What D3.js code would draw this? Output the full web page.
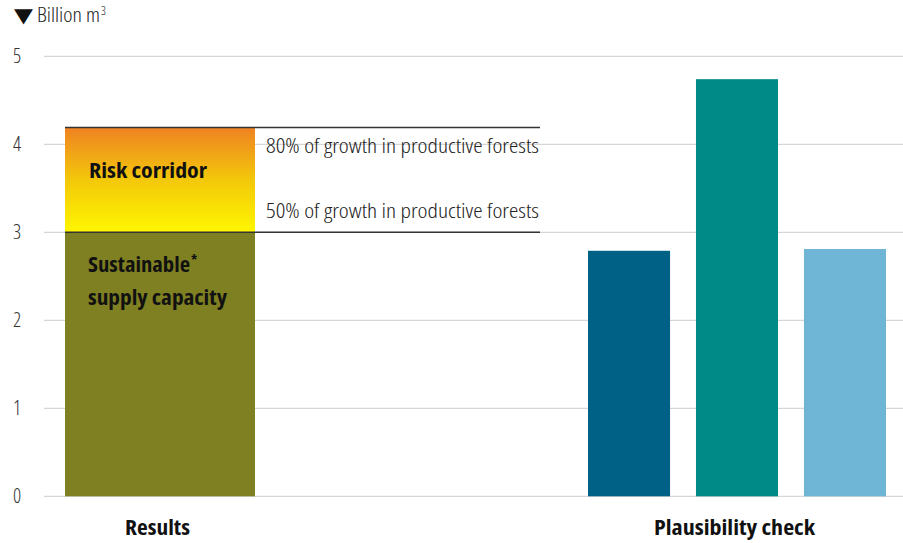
<!DOCTYPE html>
<html><head><meta charset="utf-8">
<script src="https://cdn.jsdelivr.net/npm/d3@7"></script>
<style>
body{margin:0;background:#fff;}
text{font-family:"Open Sans",sans-serif;font-stretch:75%;}
</style></head>
<body><svg id="c" width="903" height="543"></svg>
<script>
const groups = ["Results", "Plausibility check"];
const yTicks = [0, 1, 2, 3, 4, 5];
const sustainable = 3.0;      // 50% of growth
const riskTop = 4.19;         // 80% of growth
const checkNames = ["Check 1", "Check 2", "Check 3"];
const checkValues = [2.79, 4.74, 2.81];
const checkColors = ["#006186", "#008a87", "#6fb5d6"];
const lineLabels = ["80% of growth in productive forests", "50% of growth in productive forests"];

const svg = d3.select("#c");
const y = d3.scaleLinear().domain([0, 5]).range([496.3, 56.3]);
const gx = d3.scalePoint().domain(groups).range([160, 737]);
const sub = d3.scaleBand().domain(checkNames).range([588, 886]).paddingInner(0.24).paddingOuter(0);
const fit = (sel, len) => sel.attr("textLength", len).attr("lengthAdjust", "spacingAndGlyphs");

// gridlines
svg.append("g").selectAll("line").data(yTicks).join("line")
  .attr("x1", 44).attr("x2", 903)
  .attr("y1", d => y(d)).attr("y2", d => y(d))
  .attr("stroke", "#cccccc").attr("stroke-width", 1);
svg.append("g").selectAll("text").data(yTicks).join("text")
  .attr("x", 17).attr("y", d => y(d) + 7)
  .attr("text-anchor", "middle").attr("font-size", 20).attr("fill", "#333")
  .style("font-weight", 300)
  .text(d => d);

// unit label
fit(svg.append("text").attr("x", 14).attr("y", 22).attr("font-size", 20).attr("fill", "#111")
  .style("font-family", "'DejaVu Sans',sans-serif").style("font-stretch", "100%").text("▼"), 19);
fit(svg.append("text").attr("x", 37).attr("y", 22).attr("font-size", 20).attr("fill", "#222").style("font-weight", 300)
  .text("Billion m"), 63);
svg.append("text").attr("x", 101).attr("y", 15).attr("font-size", 12).attr("fill", "#222").style("font-weight", 300).text("3");

// gradient
const defs = svg.append("defs");
const grad = defs.append("linearGradient").attr("id", "risk").attr("x1", 0).attr("x2", 0).attr("y1", 0).attr("y2", 1);
grad.append("stop").attr("offset", "0%").attr("stop-color", "#ef8223");
grad.append("stop").attr("offset", "50%").attr("stop-color", "#f3c80a");
grad.append("stop").attr("offset", "100%").attr("stop-color", "#fff600");

const rx = gx("Results") - 95, rw = 190;
svg.append("rect").attr("x", rx).attr("width", rw)
  .attr("y", y(sustainable)).attr("height", y(0) - y(sustainable)).attr("fill", "#7f8022");
svg.append("rect").attr("x", rx).attr("width", rw)
  .attr("y", y(riskTop)).attr("height", y(sustainable) - y(riskTop)).attr("fill", "url(#risk)");

// reference lines
[riskTop, sustainable].forEach(v => {
  svg.append("line").attr("x1", rx).attr("x2", 540).attr("y1", y(v)).attr("y2", y(v))
    .attr("stroke", "#333").attr("stroke-width", 1.5);
});
fit(svg.append("text").attr("x", 266).attr("y", y(riskTop) + 25).attr("font-size", 21).attr("fill", "#222")
  .style("font-weight", 300).text(lineLabels[0]), 273);
fit(svg.append("text").attr("x", 266).attr("y", y(sustainable) - 14).attr("font-size", 21).attr("fill", "#222")
  .style("font-weight", 300).text(lineLabels[1]), 273);

fit(svg.append("text").attr("x", 89).attr("y", 178).attr("font-size", 22).attr("font-weight", "bold")
  .attr("fill", "#111").text("Risk corridor"), 118);
fit(svg.append("text").attr("x", 88).attr("y", 272).attr("font-size", 22).attr("font-weight", "bold")
  .attr("fill", "#111").text("Sustainable"), 102);
svg.append("text").attr("x", 191).attr("y", 265).attr("font-size", 14).attr("font-weight", "bold")
  .attr("fill", "#111").text("*");
fit(svg.append("text").attr("x", 88).attr("y", 305).attr("font-size", 22).attr("font-weight", "bold")
  .attr("fill", "#111").text("supply capacity"), 139);

// plausibility bars
svg.append("g").selectAll("rect").data(checkValues).join("rect")
  .attr("x", (d, i) => sub(checkNames[i])).attr("width", sub.bandwidth())
  .attr("y", d => y(d)).attr("height", d => y(0) - y(d))
  .attr("fill", (d, i) => checkColors[i]);

// group labels
const glen = [65, 161];
svg.append("g").selectAll("text").data(groups).join("text")
  .attr("x", (d, i) => gx(d) - 2.5 - glen[i] / 2).attr("y", 535)
  .attr("font-size", 22).attr("font-weight", "bold").attr("fill", "#111")
  .attr("textLength", (d, i) => glen[i]).attr("lengthAdjust", "spacingAndGlyphs")
  .text(d => d);
</script></body></html>
